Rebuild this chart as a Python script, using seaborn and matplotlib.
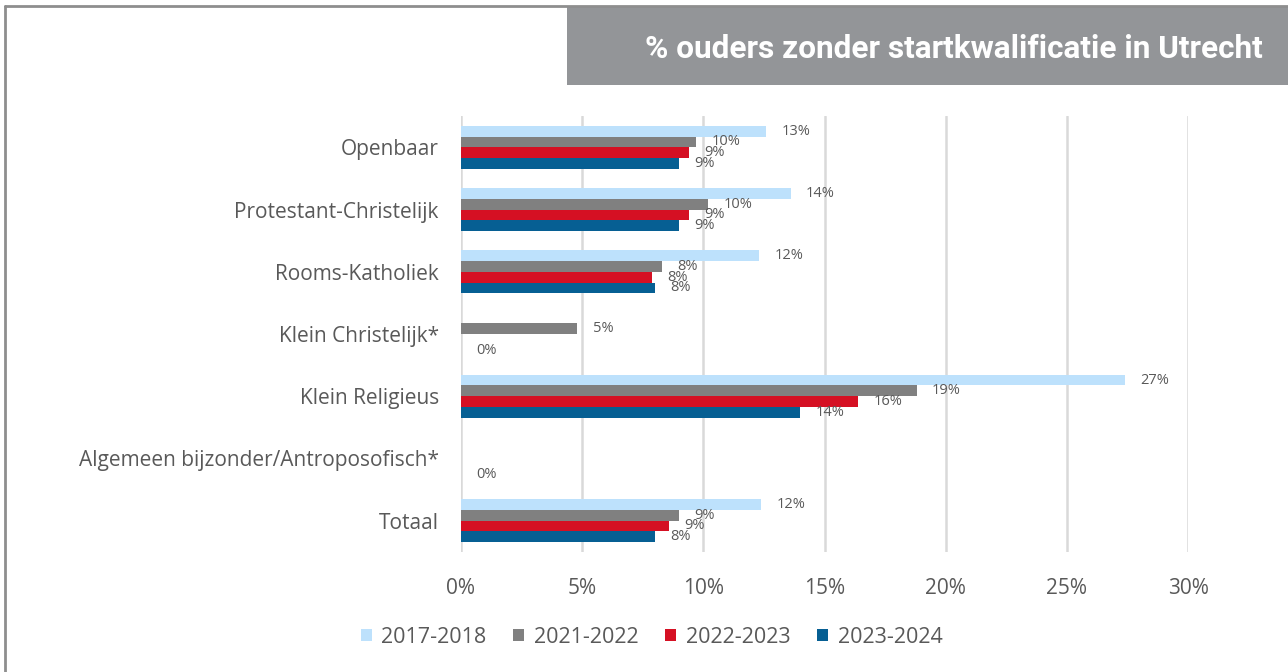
import numpy as np
import pandas as pd
import matplotlib
matplotlib.use("Agg")
import matplotlib.pyplot as plt
from matplotlib.patches import Rectangle
from matplotlib.lines import Line2D
from matplotlib.ticker import FuncFormatter
import seaborn as sns

# Data (percentages)
categories = [
    'Openbaar', 'Protestant-Christelijk', 'Rooms-Katholiek', 'Klein Christelijk*',
    'Klein Religieus', 'Algemeen bijzonder/Antroposofisch*', 'Totaal'
]
years = ['2017-2018', '2021-2022', '2022-2023', '2023-2024']
vals_2017 = [12.6, 13.6, 12.3, np.nan, 27.4, np.nan, 12.4]
vals_2021 = [9.7, 10.2, 8.3, 4.8, 18.8, np.nan, 9.0]
vals_2022 = [9.4, 9.4, 7.9, np.nan, 16.4, np.nan, 8.6]
vals_2023 = [9.0, 9.0, 8.0, 0.0, 14.0, 0.0, 8.0]
colors = ['#BDE1FC', '#808080', '#D51023', '#065F93']
title = '% ouders zonder startkwalificatie in Utrecht'

# long format for seaborn
rows = []
for year, vals in zip(years, [vals_2017, vals_2021, vals_2022, vals_2023]):
    for cat, v in zip(categories, vals):
        rows.append({'categorie': cat, 'jaar': year, 'waarde': v})
df = pd.DataFrame(rows)

sns.set_style('white')
plt.rcParams['font.family'] = ['Open Sans', 'DejaVu Sans']

fig = plt.figure(figsize=(12.88, 6.72), dpi=100)
ax = fig.add_axes([0.3579, 0.179, 0.5645, 0.648])

sns.barplot(data=df, y='categorie', x='waarde', hue='jaar', order=categories,
            hue_order=years, palette=colors, saturation=1, orient='h', width=0.69,
            gap=0, linewidth=0, errorbar=None, ax=ax, legend=True)

# data labels
for cont in ax.containers:
    labels = [f'{v:.0f}%' if not np.isnan(v) else '' for v in cont.datavalues]
    ax.bar_label(cont, labels=labels, padding=11, fontsize=10.5, color='#595959')

ax.set_xlim(0, 30)
ax.set_xticks(range(0, 31, 5))
ax.xaxis.set_major_formatter(FuncFormatter(lambda x, p: f'{x:.0f}%'))
ax.xaxis.grid(True, color='#d9d9d9', linewidth=1.8)
ax.set_axisbelow(True)
for s in ax.spines.values():
    s.set_visible(False)
ax.tick_params(axis='both', length=0, labelsize=15, labelcolor='#595959')
ax.tick_params(axis='x', pad=19)
ax.tick_params(axis='y', pad=16)
ax.set_xlabel('')
ax.set_ylabel('')

# legend at the bottom
handles, labels = ax.get_legend_handles_labels()
ax.get_legend().remove()
fig.legend(handles, labels, loc='center', bbox_to_anchor=(0.506, 0.052), ncol=4,
           frameon=False, fontsize=15.5, handlelength=0.5, handleheight=0.5,
           handletextpad=0.45, columnspacing=1.25, labelcolor='#595959')

# title box
fig.patches.append(Rectangle((0.4402, 0.8735), 0.5598, 0.1176, transform=fig.transFigure,
                             facecolor='#939598', edgecolor='none', zorder=0))
fig.text(0.9806, 0.927, title, ha='right', va='center', color='white',
         fontsize=22.7, fontweight='bold', family=['Roboto', 'DejaVu Sans'])

# frame lines (top and left)
fig.add_artist(Line2D([0.0039, 1.0], [0.9911, 0.9911], color='#8e8e8e', lw=2,
                      transform=fig.transFigure))
fig.add_artist(Line2D([0.0039, 0.0039], [0.0, 0.9911], color='#8e8e8e', lw=2,
                      transform=fig.transFigure))

fig.savefig('out.png', dpi=100)
